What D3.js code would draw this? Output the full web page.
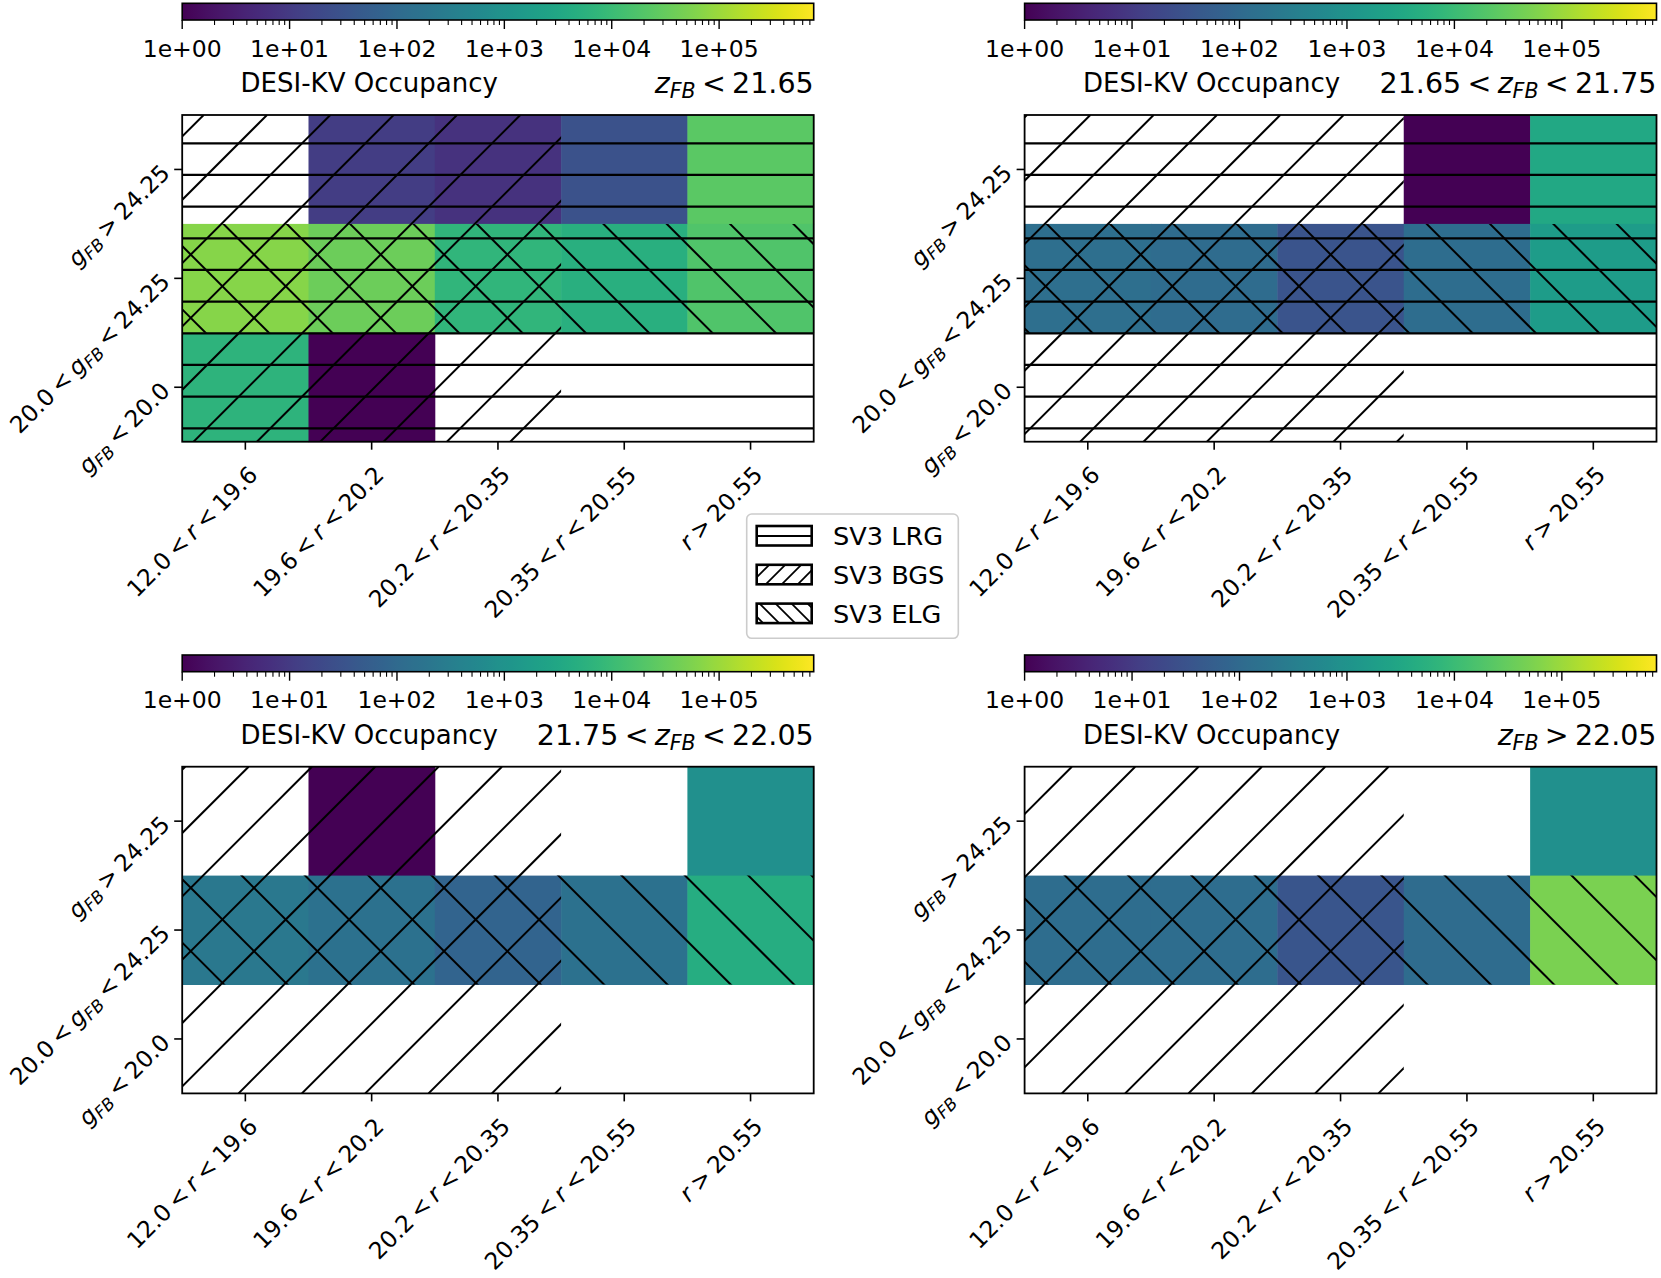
<!DOCTYPE html>
<html><head><meta charset="utf-8">
<script src="https://cdn.jsdelivr.net/npm/d3@7"></script>
<style>
body{margin:0;background:#fff}
svg{display:block}
text{font-family:"DejaVu Sans",sans-serif;fill:#000}
</style>
</head><body>
<svg id="chart" width="1661" height="1278"></svg>
<script>
// ---------------- data ----------------
const rCategories = ["12.0 < r < 19.6", "19.6 < r < 20.2", "20.2 < r < 20.35", "20.35 < r < 20.55", "r > 20.55"];
const gCategories = ["g_FB > 24.25", "20.0 < g_FB < 24.25", "g_FB < 20.0"];
const panelTitles = ["z_FB < 21.65", "21.65 < z_FB < 21.75", "21.75 < z_FB < 22.05", "z_FB > 22.05"];
// occupancy per panel: rows follow gCategories (top->bottom), columns follow rCategories; null = empty cell
const occupancyZ1 = [[null, 11, 7, 30, 24000], [66000, 36000, 7100, 5000, 18000], [6200, 1, null, null, null]];
const occupancyZ2 = [[null, null, null, 1, 3400], [130, 115, 34, 122, 1700], [null, null, null, null, null]];
const occupancyZ3 = [[null, 1, null, null, 870], [225, 160, 76, 160, 4400], [null, null, null, null, null]];
const occupancyZ4 = [[null, null, null, null, 870], [122, 122, 36, 115, 50000], [null, null, null, null, null]];
const colorbarTicks = [1, 10, 100, 1000, 10000, 100000];
const colorbarTickLabels = ["1e+00", "1e+01", "1e+02", "1e+03", "1e+04", "1e+05"];
const colorMin = 1, colorMax = 7.6e5;
const colorbarLabel = "DESI-KV Occupancy";
const legendLabels = ["SV3 LRG", "SV3 BGS", "SV3 ELG"];
// hatched regions: LRG covers whole grid in the first two panels, BGS columns 0-2, ELG row 1
const lrgPanels = [true, true, false, false];
const bgsColumns = [0, 1, 2];
const elgRows = [1];

const panelData = [occupancyZ1, occupancyZ2, occupancyZ3, occupancyZ4];

// ---------------- layout ----------------
const svg = d3.select("#chart");
const defs = svg.append("defs");
const boxes = [
  {x0: 182.2, x1: 813.7, y0: 115, y1: 441.7, cb0: 3.3, cb1: 20},
  {x0: 1024.6, x1: 1656.5, y0: 115, y1: 441.7, cb0: 3.3, cb1: 20},
  {x0: 182.2, x1: 813.7, y0: 766.7, y1: 1093.4, cb0: 655, cb1: 671.7},
  {x0: 1024.6, x1: 1656.5, y0: 766.7, y1: 1093.4, cb0: 655, cb1: 671.7}
];
const tickFS = 23.3, cbTickFS = 23.5, labelFS = 26, titleFS = 28.5, legendFS = 25.6;
const color = d3.scaleSequentialLog(d3.interpolateViridis).domain([colorMin, colorMax]);

// gradient for colorbar
const grad = defs.append("linearGradient").attr("id", "viridis").attr("x1", 0).attr("x2", 1).attr("y1", 0).attr("y2", 0);
d3.range(0, 1.0001, 0.02).forEach(t => grad.append("stop").attr("offset", t).attr("stop-color", d3.interpolateViridis(t)));

// math-like label builder
function mathText(textSel, str, fs) {
  const toks = str.split(" ");
  let pdx = 0, pdy = 0;
  const opPad = 0.22 * fs;
  toks.forEach((tok, i) => {
    const isOp = tok === "<" || tok === ">";
    if (isOp) pdx += opPad;
    const add = (txt, italic, size, shift) => {
      const ts = textSel.append("tspan").text(txt);
      if (italic) ts.attr("font-style", "italic");
      if (size) ts.attr("font-size", size);
      if (pdx) ts.attr("dx", pdx);
      const dy = pdy + (shift || 0);
      if (dy) ts.attr("dy", dy);
      pdx = 0; pdy = -(shift || 0);
    };
    if (tok.includes("_")) {
      const [b, s] = tok.split("_");
      add(b, true, null, 0);
      add(s, true, 0.72 * fs, 0.17 * fs);
    } else if (/^[a-z]$/.test(tok)) {
      add(tok, true, null, 0);
    } else {
      add(tok, false, null, 0);
    }
    if (isOp) pdx += opPad;
  });
}

let clipId = 0;
function hatch(g, r, kind, spacing, phase, lw) {
  const id = "clip" + (clipId++);
  defs.append("clipPath").attr("id", id).append("rect")
    .attr("x", r.x0).attr("y", r.y0).attr("width", r.x1 - r.x0).attr("height", r.y1 - r.y0);
  const hg = g.append("g").attr("clip-path", `url(#${id})`).attr("stroke", "#000").attr("stroke-width", lw);
  if (kind === "-") {
    for (let y = Math.ceil((r.y0 - phase) / spacing) * spacing + phase; y <= r.y1; y += spacing)
      hg.append("line").attr("x1", r.x0).attr("x2", r.x1).attr("y1", y).attr("y2", y);
  } else if (kind === "/") {
    for (let c = Math.ceil((r.x0 + r.y0 - phase) / spacing) * spacing + phase; c <= r.x1 + r.y1; c += spacing)
      hg.append("line").attr("x1", c - r.y1).attr("y1", r.y1).attr("x2", c - r.y0).attr("y2", r.y0);
  } else {
    for (let c = Math.ceil((r.y0 - r.x1 - phase) / spacing) * spacing + phase; c <= r.y1 - r.x0; c += spacing)
      hg.append("line").attr("x1", r.x0).attr("y1", r.x0 + c).attr("x2", r.x1).attr("y2", r.x1 + c);
  }
}

panelData.forEach((data, p) => {
  const b = boxes[p];
  const g = svg.append("g");
  const x = d3.scaleBand().domain(rCategories).range([b.x0, b.x1]).padding(0);
  const y = d3.scaleBand().domain(gCategories).range([b.y0, b.y1]).padding(0);

  // cells
  data.forEach((row, i) => row.forEach((v, j) => {
    if (v == null) return;
    g.append("rect").attr("x", x(rCategories[j])).attr("y", y(gCategories[i]))
      .attr("width", x.bandwidth() + 0.5).attr("height", y.bandwidth() + 0.5)
      .attr("fill", color(v));
  }));

  // hatches
  const hs = 63.33;
  if (lrgPanels[p]) hatch(g, {x0: b.x0, x1: b.x1, y0: b.y0, y1: b.y1}, "-", 31.67, 16.6, 2.2);
  const bx0 = x(rCategories[bgsColumns[0]]), bx1 = x(rCategories[bgsColumns[bgsColumns.length - 1]]) + x.bandwidth();
  hatch(g, {x0: bx0, x1: bx1, y0: b.y0, y1: b.y1}, "/", hs, 2, 2);
  elgRows.forEach(ri => {
    const ey0 = y(gCategories[ri]);
    hatch(g, {x0: b.x0, x1: b.x1, y0: ey0, y1: ey0 + y.bandwidth()}, "\\", hs, 0.5, 2);
  });

  // frame
  g.append("rect").attr("x", b.x0).attr("y", b.y0).attr("width", b.x1 - b.x0).attr("height", b.y1 - b.y0)
    .attr("fill", "none").attr("stroke", "#000").attr("stroke-width", 1.8);

  // x ticks
  rCategories.forEach(c => {
    const cx = x(c) + x.bandwidth() / 2;
    g.append("line").attr("x1", cx).attr("x2", cx).attr("y1", b.y1).attr("y2", b.y1 + 8).attr("stroke", "#000").attr("stroke-width", 1.6);
    const t = g.append("text").attr("text-anchor", "end").attr("font-size", tickFS)
      .attr("transform", `translate(${cx + 1},${b.y1 + 22}) rotate(-45)`).attr("y", 0.76 * tickFS);
    mathText(t, c, tickFS);
  });
  // y ticks
  gCategories.forEach(c => {
    const cy = y(c) + y.bandwidth() / 2;
    g.append("line").attr("x1", b.x0 - 8).attr("x2", b.x0).attr("y1", cy).attr("y2", cy).attr("stroke", "#000").attr("stroke-width", 1.6);
    const t = g.append("text").attr("text-anchor", "end").attr("font-size", tickFS)
      .attr("transform", `translate(${b.x0 - 16},${cy}) rotate(-45)`).attr("y", 0.3 * tickFS);
    mathText(t, c, tickFS);
  });

  // colorbar
  const cs = d3.scaleLog().domain([colorMin, colorMax]).range([b.x0, b.x1]);
  g.append("rect").attr("x", b.x0).attr("y", b.cb0).attr("width", b.x1 - b.x0).attr("height", b.cb1 - b.cb0)
    .attr("fill", "url(#viridis)").attr("stroke", "#000").attr("stroke-width", 1.6);
  colorbarTicks.forEach((v, k) => {
    g.append("line").attr("x1", cs(v)).attr("x2", cs(v)).attr("y1", b.cb1).attr("y2", b.cb1 + 9).attr("stroke", "#000").attr("stroke-width", 1.4);
    g.append("text").attr("x", cs(v)).attr("y", b.cb1 + 36.5).attr("text-anchor", "middle").attr("font-size", cbTickFS).text(colorbarTickLabels[k]);
    for (let m = 2; m <= 9; m++) {
      const mv = m * v;
      if (mv > colorMax) break;
      g.append("line").attr("x1", cs(mv)).attr("x2", cs(mv)).attr("y1", b.cb1).attr("y2", b.cb1 + 5).attr("stroke", "#000").attr("stroke-width", 1.1);
    }
  });
  g.append("text").attr("x", b.x0 + 187).attr("y", b.cb1 + 72).attr("text-anchor", "middle").attr("font-size", labelFS).text(colorbarLabel);
  const tt = g.append("text").attr("x", b.x1).attr("y", b.y0 - 22).attr("text-anchor", "end").attr("font-size", titleFS);
  mathText(tt, panelTitles[p], titleFS);
});

// legend
const lg = svg.append("g");
lg.append("rect").attr("x", 746.7).attr("y", 514).attr("width", 211.6).attr("height", 124.3).attr("rx", 5)
  .attr("fill", "#fff").attr("fill-opacity", 0.8).attr("stroke", "#cccccc").attr("stroke-width", 1.6);
const kinds = ["-", "/", "\\"];
legendLabels.forEach((lab, i) => {
  const py = 526 + i * 38.8;
  const r = {x0: 756.7, x1: 811.7, y0: py, y1: py + 19.5};
  if (i === 0) hatch(lg, r, "-", 40, r.y0 + 10, 2);
  else hatch(lg, r, kinds[i], 16, i === 1 ? 6 : 4, 1.8);
  lg.append("rect").attr("x", r.x0).attr("y", r.y0).attr("width", r.x1 - r.x0).attr("height", r.y1 - r.y0)
    .attr("fill", "none").attr("stroke", "#000").attr("stroke-width", 2.6);
  lg.append("text").attr("x", 833).attr("y", py + 19).attr("font-size", legendFS).text(lab);
});
</script>
</body></html>
